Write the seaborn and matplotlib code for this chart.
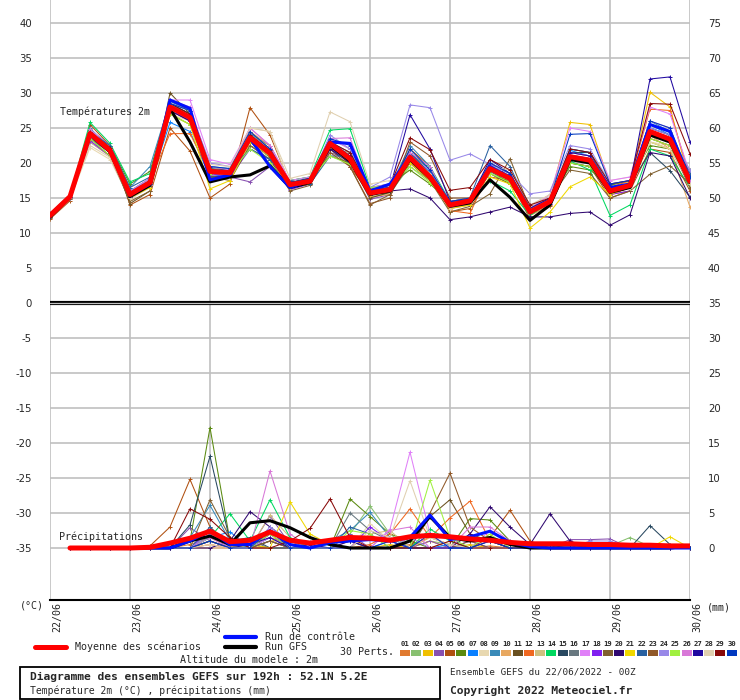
import matplotlib
matplotlib.use("Agg")
import seaborn as sns
import matplotlib.pyplot as plt
import matplotlib.transforms as mtransforms
from matplotlib.lines import Line2D
from matplotlib.patches import Rectangle

# 6-hourly steps from 22/06 00Z to 30/06 00Z (192h)
temp_steps = list(range(33))
rain_steps = list(range(1, 33))
day_labels = ["22/06", "23/06", "24/06", "25/06", "26/06", "27/06", "28/06", "29/06", "30/06"]

member_colors = ["#e07a30", "#88c070", "#f0c000", "#8850b0", "#b05010", "#5a8a10",
                 "#0a80ff", "#e8d8b0", "#3a8ab8", "#e8a860", "#6a5020", "#f06820",
                 "#d0c080", "#00d860", "#284860", "#687880", "#e080f8", "#8020f0",
                 "#806030", "#300870", "#f0d800", "#2860a0", "#905828", "#9888e8",
                 "#a0f040", "#d878d8", "#2008a0", "#e0d0b0", "#880808", "#0038c0"]

# 2m temperature (°C), one list per perturbation
t01 = [12.4, 15.0, 24.0, 22.0, 15.2, 17.0, 27.5, 26.0, 18.5, 18.2, 24.5, 22.0, 16.5, 17.0, 22.0, 21.5, 16.0, 15.5, 21.5, 19.0, 13.5, 14.0, 20.0, 18.5, 12.5, 14.0, 21.5, 21.0, 15.5, 16.0, 24.0, 23.0, 16.5]
t02 = [12.3, 15.3, 23.8, 21.5, 16.0, 17.5, 28.5, 27.0, 19.0, 18.8, 22.5, 20.5, 17.0, 17.8, 23.5, 22.0, 15.0, 15.8, 19.5, 17.5, 14.5, 15.0, 18.5, 17.0, 13.5, 15.5, 20.0, 19.5, 16.5, 17.0, 23.0, 22.0, 17.0]
t03 = [12.5, 15.1, 24.5, 22.3, 15.8, 17.5, 28.2, 27.0, 19.2, 18.5, 24.0, 22.5, 17.2, 17.5, 22.5, 20.0, 16.2, 16.5, 21.0, 18.5, 14.2, 15.0, 19.5, 18.0, 13.2, 15.0, 25.8, 25.5, 17.0, 17.2, 30.1, 28.0, 17.0]
t04 = [12.2, 14.8, 23.0, 21.0, 15.0, 16.8, 27.8, 26.0, 18.2, 18.0, 17.3, 19.5, 16.5, 17.0, 21.5, 20.5, 14.8, 15.5, 20.5, 17.5, 13.8, 14.2, 19.8, 18.5, 12.8, 14.2, 21.0, 20.0, 15.5, 16.5, 25.0, 24.0, 18.0]
t05 = [12.0, 14.6, 25.5, 22.5, 14.0, 15.5, 25.0, 21.7, 15.0, 17.0, 27.9, 24.0, 17.0, 17.5, 23.0, 19.5, 15.5, 16.0, 22.0, 19.5, 13.0, 13.5, 18.0, 17.5, 12.0, 13.8, 20.0, 19.5, 15.0, 16.0, 22.0, 21.5, 16.0]
t06 = [12.6, 15.4, 24.8, 22.5, 17.0, 18.8, 29.0, 27.5, 19.5, 19.0, 23.0, 20.8, 17.5, 18.0, 21.0, 20.0, 16.5, 17.0, 19.0, 17.0, 14.5, 15.0, 18.8, 17.2, 13.5, 14.8, 19.5, 19.0, 16.8, 17.5, 22.5, 22.0, 19.0]
t07 = [12.5, 15.2, 23.5, 21.5, 15.5, 17.0, 25.8, 24.5, 18.0, 18.5, 23.8, 22.0, 16.5, 17.2, 23.2, 21.0, 16.0, 16.5, 21.5, 18.8, 14.0, 14.5, 19.5, 18.0, 13.5, 14.5, 21.8, 21.0, 16.5, 17.0, 25.5, 24.0, 18.5]
t08 = [12.2, 14.8, 22.2, 20.5, 14.8, 16.5, 27.0, 26.0, 18.5, 18.5, 25.0, 24.5, 16.8, 17.0, 22.0, 20.5, 15.5, 16.0, 20.0, 18.0, 13.5, 14.0, 19.0, 18.5, 13.8, 15.5, 22.0, 21.5, 17.5, 18.0, 23.0, 22.5, 16.8]
t09 = [12.8, 15.5, 25.0, 22.0, 16.5, 19.5, 28.8, 27.5, 19.5, 19.2, 24.2, 22.5, 17.2, 17.5, 23.0, 21.5, 16.2, 16.5, 22.5, 19.5, 13.8, 14.8, 20.0, 18.5, 12.8, 14.5, 22.0, 21.5, 16.0, 17.0, 26.0, 24.5, 17.0]
t10 = [12.4, 15.0, 24.2, 22.0, 15.2, 17.0, 28.0, 26.8, 19.0, 18.8, 24.5, 22.5, 17.0, 17.5, 23.5, 20.5, 15.2, 15.5, 21.0, 18.5, 13.5, 14.2, 19.0, 17.5, 12.5, 14.0, 20.5, 20.0, 15.5, 16.5, 24.0, 22.0, 13.7]
t11 = [12.3, 15.0, 24.5, 21.8, 14.2, 16.0, 30.0, 27.0, 18.0, 18.2, 23.5, 21.0, 16.5, 17.0, 22.5, 20.0, 15.0, 15.8, 20.0, 17.5, 14.0, 14.5, 18.5, 17.0, 13.0, 14.5, 20.0, 19.5, 15.5, 16.5, 24.5, 23.5, 17.5]
t12 = [12.5, 15.3, 24.0, 22.0, 15.5, 17.5, 24.2, 24.2, 18.5, 18.2, 24.0, 22.0, 16.8, 17.2, 23.0, 21.0, 15.5, 16.2, 21.5, 18.5, 13.2, 12.8, 19.0, 18.0, 13.0, 14.5, 21.0, 20.5, 16.5, 17.5, 27.7, 27.5, 18.0]
t13 = [12.5, 15.1, 23.0, 21.0, 15.5, 17.2, 27.5, 26.5, 19.0, 18.8, 22.5, 21.0, 16.8, 17.5, 22.0, 20.2, 15.8, 16.5, 20.5, 17.8, 14.2, 15.0, 19.0, 17.8, 13.2, 14.8, 20.5, 20.0, 16.2, 17.0, 23.5, 22.5, 17.2]
t14 = [12.7, 15.4, 25.8, 22.8, 17.3, 18.5, 28.5, 27.0, 19.0, 18.5, 22.0, 20.5, 17.5, 18.0, 24.7, 24.9, 16.5, 16.8, 20.3, 19.5, 14.5, 14.5, 17.5, 16.0, 12.5, 14.4, 20.3, 19.0, 12.5, 14.0, 22.0, 21.0, 16.5]
t15 = [12.4, 15.0, 24.5, 22.5, 16.0, 17.8, 27.8, 26.5, 19.2, 19.0, 24.0, 22.0, 17.2, 17.8, 22.5, 21.0, 16.0, 16.5, 21.0, 18.0, 14.0, 14.8, 20.0, 18.5, 13.5, 15.0, 21.5, 21.5, 16.0, 17.0, 21.5, 18.9, 15.1]
t16 = [12.3, 15.0, 23.5, 21.5, 15.0, 16.8, 28.5, 27.5, 19.0, 18.5, 23.0, 21.5, 16.5, 17.2, 22.0, 20.5, 15.5, 16.0, 21.0, 18.5, 14.0, 14.5, 18.8, 17.5, 13.0, 14.8, 20.5, 20.0, 16.0, 16.5, 24.0, 23.0, 17.5]
t17 = [12.5, 15.3, 24.8, 22.5, 16.0, 17.8, 29.0, 29.0, 20.5, 19.8, 25.0, 22.5, 17.5, 18.0, 23.5, 22.0, 16.5, 17.0, 21.0, 19.0, 14.5, 15.0, 20.0, 18.5, 13.5, 15.5, 25.0, 24.5, 17.5, 18.0, 28.0, 27.0, 18.5]
t18 = [12.4, 15.0, 23.2, 21.0, 15.0, 16.8, 27.5, 26.0, 18.5, 18.0, 22.0, 20.5, 16.2, 17.0, 22.0, 20.5, 15.5, 16.0, 20.0, 17.5, 14.0, 14.5, 19.5, 18.0, 13.0, 14.2, 21.0, 20.5, 15.5, 16.0, 24.0, 23.0, 17.0]
t19 = [12.2, 14.8, 23.5, 21.0, 14.5, 16.0, 27.0, 25.5, 18.0, 17.5, 22.5, 20.5, 16.0, 16.8, 22.0, 19.5, 14.0, 15.5, 20.0, 17.5, 13.0, 13.8, 15.6, 20.6, 13.5, 15.0, 19.0, 18.5, 15.0, 16.0, 18.4, 19.6, 17.0]
t20 = [12.3, 15.0, 24.0, 21.5, 15.2, 17.0, 27.5, 26.0, 18.5, 18.5, 23.0, 21.0, 16.5, 17.0, 22.0, 20.0, 15.5, 16.0, 16.3, 15.0, 11.9, 12.3, 13.0, 13.7, 12.3, 12.3, 12.8, 13.0, 11.1, 12.6, 21.5, 21.0, 15.0]
t21 = [12.5, 15.2, 24.0, 21.5, 15.0, 16.5, 27.0, 25.5, 16.3, 17.5, 23.0, 21.0, 16.5, 17.0, 22.5, 20.5, 15.5, 16.2, 20.0, 17.5, 13.5, 14.0, 18.0, 17.0, 10.7, 13.0, 16.6, 18.0, 15.5, 16.5, 23.0, 22.0, 17.5]
t22 = [12.6, 15.4, 24.5, 22.5, 16.5, 18.0, 28.5, 27.0, 19.0, 19.0, 22.0, 20.5, 17.5, 17.0, 21.0, 21.0, 16.0, 16.5, 21.5, 18.5, 14.0, 15.0, 22.5, 19.5, 13.5, 15.0, 22.0, 21.5, 16.5, 17.0, 25.0, 24.0, 18.5]
t23 = [12.3, 15.0, 24.2, 22.0, 15.5, 17.2, 28.0, 26.5, 19.0, 18.8, 24.0, 22.0, 17.0, 17.5, 21.5, 19.5, 14.2, 15.0, 23.0, 21.0, 15.0, 15.0, 19.0, 18.0, 12.8, 14.5, 20.5, 20.0, 16.0, 16.8, 23.5, 22.5, 16.5]
t24 = [12.5, 15.2, 24.5, 22.0, 16.0, 17.5, 28.5, 27.5, 20.0, 19.5, 24.0, 22.0, 17.0, 17.5, 24.0, 22.0, 16.5, 18.0, 28.3, 27.9, 20.4, 21.3, 19.8, 18.5, 15.6, 16.0, 22.5, 22.0, 17.0, 17.5, 25.0, 24.0, 19.0]
t25 = [12.4, 15.1, 23.5, 21.0, 15.5, 17.0, 27.0, 25.5, 18.5, 18.6, 22.0, 20.0, 16.8, 17.5, 21.0, 19.8, 16.5, 16.8, 19.5, 17.2, 14.2, 15.0, 18.5, 17.2, 13.5, 14.5, 20.0, 19.5, 16.0, 16.5, 23.5, 22.5, 17.0]
t26 = [12.5, 15.2, 24.8, 22.0, 15.5, 17.2, 29.0, 28.0, 19.5, 19.0, 25.0, 22.5, 17.0, 17.5, 23.5, 23.6, 16.0, 16.5, 21.5, 19.5, 14.0, 15.0, 19.5, 18.0, 13.5, 15.0, 21.5, 21.0, 16.5, 17.0, 26.0, 25.0, 17.5]
t27 = [12.4, 15.0, 24.0, 21.5, 15.2, 17.0, 28.0, 26.5, 19.0, 18.5, 23.5, 21.5, 17.0, 17.5, 23.0, 21.0, 16.0, 16.5, 26.9, 22.0, 14.5, 14.8, 20.5, 18.5, 13.5, 15.0, 21.5, 21.0, 16.5, 17.0, 32.0, 32.3, 23.0]
t28 = [12.4, 15.0, 22.5, 20.8, 15.0, 16.8, 27.5, 26.8, 19.8, 19.5, 25.0, 24.5, 17.8, 18.5, 27.3, 25.9, 17.0, 17.5, 21.0, 18.5, 13.5, 14.5, 19.5, 19.0, 14.0, 15.5, 21.0, 20.5, 16.0, 16.5, 23.0, 22.0, 17.0]
t29 = [12.5, 15.2, 24.5, 22.2, 15.8, 17.5, 28.5, 27.0, 19.0, 18.8, 24.0, 21.8, 17.2, 17.8, 23.0, 21.5, 16.2, 16.8, 23.6, 21.9, 16.1, 16.5, 20.5, 19.0, 14.0, 15.0, 22.0, 21.5, 17.0, 17.5, 28.5, 28.4, 21.3]
t30 = [12.5, 15.2, 24.2, 21.8, 15.6, 17.4, 28.5, 27.5, 19.5, 19.2, 24.5, 22.0, 17.2, 17.8, 23.5, 22.5, 16.0, 16.5, 22.0, 19.0, 14.5, 15.0, 20.0, 18.5, 13.0, 14.8, 24.1, 24.2, 17.0, 17.5, 26.0, 25.0, 18.0]
temp_control = [12.5, 15.2, 24.0, 21.8, 15.5, 17.0, 29.0, 27.8, 17.6, 18.3, 23.5, 19.5, 16.5, 17.5, 23.0, 22.8, 16.0, 17.0, 21.0, 18.0, 14.0, 14.5, 19.5, 18.0, 13.0, 14.5, 21.0, 20.5, 16.5, 17.0, 25.5, 24.5, 17.5]
temp_gfs = [12.3, 15.1, 24.0, 21.6, 15.2, 16.8, 27.8, 23.0, 17.3, 18.0, 18.3, 19.6, 16.5, 17.2, 22.5, 20.3, 15.5, 16.0, 20.5, 17.8, 13.8, 14.3, 17.6, 15.1, 11.8, 14.0, 20.5, 20.0, 15.8, 16.5, 24.0, 23.0, 17.2]
temp_mean = [12.5, 15.2, 24.2, 21.8, 15.5, 17.2, 28.0, 26.5, 18.8, 18.6, 23.6, 21.4, 16.9, 17.4, 22.8, 20.6, 15.7, 16.2, 20.8, 18.0, 14.0, 14.6, 19.2, 17.8, 13.0, 14.5, 20.9, 20.4, 16.0, 16.8, 24.5, 23.4, 17.4]

# 6h precipitation (mm), steps 1..32
p01 = [0, 0, 0, 0, 0, 0, 0.5, 1.5, 0.3, 0, 1.5, 0.5, 0, 0, 1.0, 0, 0, 0.5, 1.5, 0.5, 0, 0.3, 0, 0, 0, 0, 0.2, 0, 0, 0, 0, 0]
p02 = [0, 0, 0, 0, 0, 0, 0, 2.0, 0, 0, 1.0, 0, 0, 0, 2.0, 6.0, 2.0, 0, 1.0, 0.5, 0, 0, 0, 0, 0, 0, 0, 0.3, 1.5, 0.2, 0, 0]
p03 = [0, 0, 0, 0, 0, 0, 0, 1.0, 0, 0.5, 2.0, 1.0, 0, 0, 0, 0, 0.5, 0, 1.0, 0, 0.5, 0, 0, 0, 0, 0, 0, 0, 0, 0, 0, 0]
p04 = [0, 0, 0, 0, 0, 0, 2.9, 1.0, 0, 0, 4.6, 0.5, 0, 0, 2.0, 0, 0, 0, 1.0, 0, 0, 0, 0, 0, 0, 1.2, 1.2, 1.3, 0, 0, 0, 0]
p05 = [0, 0, 0, 0, 0.3, 3.0, 9.8, 3.0, 0.5, 0.5, 0, 0, 0, 0, 0, 0, 0, 0, 0, 0, 0, 1.5, 5.4, 1.0, 0, 0, 0, 0, 0, 0, 0, 0]
p06 = [0, 0, 0, 0, 0, 0, 1.0, 17.2, 1.0, 0, 2.5, 1.0, 0, 0, 7.0, 4.5, 2.0, 1.0, 0, 0, 4.2, 4.0, 1.0, 0, 0, 0.5, 0, 0, 0, 0, 0, 0]
p07 = [0, 0, 0, 0, 0, 0, 0, 1.5, 2.3, 0, 1.5, 0, 0, 0.5, 0, 0, 1.0, 0, 0, 0.5, 0, 0, 0, 0, 0, 0, 0, 0, 0, 0, 0, 0]
p08 = [0, 0, 0, 0, 0, 0, 0, 1.0, 0, 0, 1.0, 0, 0, 0, 0, 3.5, 1.0, 0, 0, 0, 0, 0, 0, 0, 0, 0, 0, 0, 0, 0, 0, 0]
p09 = [0, 0, 0, 0, 0, 0, 1.5, 6.1, 1.0, 0, 0, 0, 0.8, 1.0, 2.5, 5.1, 1.5, 0, 0, 0, 0, 0, 0, 0, 0, 0, 0, 0, 0, 0, 0, 0]
p10 = [0, 0, 0, 0, 0, 0, 0, 0, 0, 0, 1.0, 1.0, 0, 0, 0, 0, 0, 0, 1.5, 0.5, 0, 0, 0, 0, 0, 0, 0, 0, 0, 0, 0, 0]
p11 = [0, 0, 0, 0, 0, 0, 0, 1.0, 0, 0, 2.0, 0, 0, 0, 0, 0, 0, 0, 4.5, 6.9, 2.0, 1.0, 0, 0, 0, 0, 0, 0, 0, 0, 0, 0]
p12 = [0, 0, 0, 0, 0, 0, 0, 0.5, 0, 0, 0, 0, 0, 0, 0, 0.5, 2.0, 5.6, 1.5, 4.3, 6.7, 1.0, 0, 0, 0, 0, 0, 0, 0, 0, 0, 0]
p13 = [0, 0, 0, 0, 0, 0, 0, 1.5, 0, 0, 4.7, 1.5, 0, 0, 0, 2.0, 2.5, 0, 0, 1.0, 0, 0, 0, 0, 0, 0, 0, 0, 0, 0, 0, 0]
p14 = [0, 0, 0, 0, 0, 0, 0, 1.5, 4.9, 1.0, 6.9, 1.5, 0, 0, 0, 0, 0, 0, 2.7, 1.0, 0, 0, 0, 0, 0, 0, 0, 0, 0, 0, 0, 0]
p15 = [0, 0, 0, 0, 0, 0, 3.3, 13.1, 1.0, 1.5, 0, 0, 0, 1.0, 1.0, 0, 0, 0, 0, 0, 0, 0, 0, 0, 0, 0, 0, 0, 0, 3.2, 0.5, 0]
p16 = [0, 0, 0, 0, 0, 0, 0, 2.0, 0, 1.0, 0, 0, 0, 0, 5.0, 2.5, 1.0, 0, 0, 0, 0, 0, 0, 0, 0, 0, 0, 0, 0, 0, 0, 0]
p17 = [0, 0, 0, 0, 0, 0, 0, 1.0, 0, 0, 1.5, 0, 0, 0, 0, 0, 2.7, 13.7, 2.0, 0, 0, 2.5, 1.0, 0, 0, 0, 0, 0, 0, 0, 0, 0]
p18 = [0, 0, 0, 0, 0, 0, 0, 2.5, 0, 0, 2.0, 0, 0, 0, 0, 3.0, 1.0, 0, 0, 0, 1.0, 0, 0, 0, 0, 0, 0, 0, 0, 0, 0, 0]
p19 = [0, 0, 0, 0, 0, 0, 0, 6.9, 1.5, 0, 1.0, 0, 0, 0, 0, 0, 0, 0, 0, 0, 1.0, 0, 0, 0, 0, 0, 0, 0, 0, 0, 0, 0]
p20 = [0, 0, 0, 0, 0, 0, 0, 0, 1.0, 5.2, 3.0, 1.0, 0, 0, 0, 0, 0, 0, 0, 0, 2.0, 5.9, 3.0, 0.5, 4.9, 1.0, 0, 0, 0, 0, 0, 0]
p21 = [0, 0, 0, 0, 0, 0, 0, 1.0, 0, 0.5, 0, 6.6, 2.0, 0.5, 0, 0, 0, 0, 0, 0, 0, 0, 0, 0, 0, 0, 0, 0, 0, 0, 1.6, 0]
p22 = [0, 0, 0, 0, 0, 0, 0, 3.0, 0, 0, 1.0, 0, 0, 0, 3.0, 2.0, 0, 0, 0, 0, 0, 0, 0, 0, 0, 0, 0, 0, 0, 0, 0, 0]
p23 = [0, 0, 0, 0, 0, 0, 0, 1.0, 0, 0, 1.0, 0, 0, 0, 0, 0, 0, 0, 5.0, 10.7, 3.0, 1.0, 0, 0, 0, 0, 0, 0, 0, 0.5, 0.3, 0]
p24 = [0, 0, 0, 0, 0, 0, 0, 2.0, 0, 0, 3.0, 1.0, 0, 0, 0, 0, 0, 1.5, 0, 0, 0, 0, 0, 0, 0, 0, 1.0, 1.0, 0, 0, 0, 0]
p25 = [0, 0, 0, 0, 0, 0, 0, 1.0, 0, 0, 2.0, 0, 0, 0, 2.5, 2.0, 0, 0, 9.7, 1.5, 0, 2.0, 0, 0, 0, 0, 0, 0, 0, 0, 0, 0]
p26 = [0, 0, 0, 0, 0, 0, 0, 1.5, 0, 0, 11.0, 2.0, 0, 0, 0, 0, 2.5, 3.0, 0, 0, 3.0, 3.0, 1.0, 0, 0, 0, 0, 0, 0, 0, 0, 0]
p27 = [0, 0, 0, 0, 0, 0, 0, 1.0, 0, 0.5, 1.5, 0, 0.5, 0, 1.0, 0, 0, 0, 0, 0, 0, 1.0, 0, 0, 0, 0, 0, 0.3, 0, 0, 0, 0]
p28 = [0, 0, 0, 0, 0, 0, 0, 0.5, 0, 0, 2.5, 0, 0, 0, 0, 2.5, 1.5, 9.6, 1.5, 0.5, 0, 0, 0, 0, 0, 0, 0, 0, 0, 0, 0, 0]
p29 = [0, 0, 0, 0, 0, 0, 5.6, 4.1, 1.5, 0, 0, 1.0, 2.8, 7.0, 1.5, 0, 0, 0, 0, 1.0, 0, 0, 0, 0, 0, 0, 0, 0, 0, 0, 0, 0]
p30 = [0, 0, 0, 0, 0, 0, 0, 1.0, 0, 0, 2.5, 0, 0, 0, 0, 0, 1.0, 0, 2.0, 0, 0, 1.0, 0, 0, 0, 0, 0, 0, 0, 0, 0, 0]
rain_control = [0, 0, 0, 0, 0, 0, 1.0, 2.5, 0.5, 0.5, 2.5, 0.5, 0, 0.8, 1.0, 1.2, 1.0, 1.5, 4.7, 1.2, 1.6, 2.4, 0.8, 0.2, 0, 0, 0, 0, 0, 0, 0, 0]
rain_gfs = [0, 0, 0, 0, 0, 0, 1.0, 1.7, 0.5, 3.6, 3.9, 2.9, 1.5, 0.5, 0, 0, 0, 1.0, 4.5, 1.5, 1.0, 1.5, 0.5, 0, 0, 0, 0, 0, 0, 0, 0, 0.3]
rain_mean = [0, 0, 0, 0, 0.1, 0.7, 1.4, 2.4, 0.9, 1.1, 2.3, 1.1, 0.7, 1.1, 1.5, 1.4, 1.1, 1.6, 1.8, 1.6, 1.3, 1.1, 0.8, 0.6, 0.6, 0.6, 0.5, 0.5, 0.4, 0.4, 0.3, 0.3]

temp_members = [t01, t02, t03, t04, t05, t06, t07, t08, t09, t10, t11, t12, t13, t14, t15,
                t16, t17, t18, t19, t20, t21, t22, t23, t24, t25, t26, t27, t28, t29, t30]
rain_members = [p01, p02, p03, p04, p05, p06, p07, p08, p09, p10, p11, p12, p13, p14, p15,
                p16, p17, p18, p19, p20, p21, p22, p23, p24, p25, p26, p27, p28, p29, p30]

sns.set_style("white")
plt.rcParams["font.family"] = ["DejaVu Sans Mono", "DejaVu Sans"]
plt.rcParams["axes.unicode_minus"] = False

W, H = 740, 700
fig = plt.figure(figsize=(W / 100, H / 100), dpi=100)
ax = fig.add_axes([50 / W, 100 / H, 640 / W, 600 / H])

# 7 px per degree, 40°C at y=23 px from the top
y_top = 40 + 23 / 7
y_bot = 40 - 577 / 7
ax.set_xlim(0, 32)
ax.set_ylim(y_bot, y_top)

grid_c = "#c0c0c0"
ax.set_yticks(range(-35, 41, 5))
ax.set_xticks(range(0, 33, 4))
ax.grid(True, color=grid_c, lw=1.2)
ax.set_axisbelow(True)
for s in ["top", "left", "right"]:
    ax.spines[s].set_visible(False)
ax.spines["bottom"].set_color("black")
ax.spines["bottom"].set_linewidth(1.5)

# double zero line
ax.axhline(0, color="black", lw=3.0, zorder=1.5)
ax.axhline(0, color=grid_c, lw=0.9, zorder=1.6)

# temperature ensemble
for vals, col in zip(temp_members, member_colors):
    sns.lineplot(x=temp_steps, y=vals, color=col, lw=0.75, marker="+", markersize=3.5,
                 markeredgecolor=col, markeredgewidth=0.7, ax=ax, legend=False)
sns.lineplot(x=temp_steps, y=temp_gfs, color="black", lw=2.2, ax=ax, legend=False)
sns.lineplot(x=temp_steps, y=temp_control, color="#0010ff", lw=2.2, ax=ax, legend=False)
sns.lineplot(x=temp_steps, y=temp_mean, color="#ff0000", lw=3.6, ax=ax, legend=False)

# precipitation on the right scale (0 mm at -35°C)
ax2 = ax.twinx()
ax2.set_ylim(y_bot + 35, y_top + 35)
ax2.set_yticks(range(0, 76, 5))
for s in ax2.spines.values():
    s.set_visible(False)
for vals, col in zip(rain_members, member_colors):
    sns.lineplot(x=rain_steps, y=vals, color=col, lw=0.75, marker="+", markersize=3.5,
                 markeredgecolor=col, markeredgewidth=0.7, ax=ax2, legend=False)
sns.lineplot(x=rain_steps, y=rain_gfs, color="black", lw=2.2, ax=ax2, legend=False)
sns.lineplot(x=rain_steps, y=rain_control, color="#0010ff", lw=2.2, ax=ax2, legend=False)
sns.lineplot(x=rain_steps, y=rain_mean, color="#ff0000", lw=3.6, ax=ax2, legend=False)
ax2.set_xlim(0, 32)

# tick labels
ax.set_xlabel("")
ax.set_ylabel("")
ax2.set_ylabel("")
ax.tick_params(axis="y", length=0, pad=13, labelsize=7.3, labelfontfamily="DejaVu Sans")
ax2.tick_params(axis="y", length=0, pad=13, labelsize=7.3, labelfontfamily="DejaVu Sans")
ax.tick_params(axis="x", length=0, pad=1.5, labelsize=7.2)
ax.set_xticklabels(day_labels, rotation=90, ha="center", va="top")
shift = mtransforms.ScaledTranslation(7 / 100, 0, fig.dpi_scale_trans)
for lab in ax.get_xticklabels():
    lab.set_transform(lab.get_transform() + shift)

def ftext(x, y, s, **kw):
    fig.text(x / W, 1 - y / H, s, va="center", **kw)

ax.text(10 / 640, 1 - 112 / 600, "Températures 2m", fontsize=7.2, va="center", transform=ax.transAxes)
ax.text(9 / 640, 1 - 537 / 600, "Précipitations", fontsize=7.2, va="center", transform=ax.transAxes)
ftext(20, 606, "(°C)", fontsize=7.2)
ftext(707, 607, "(mm)", fontsize=7.2)

# legend
def fline(x0, x1, y, color, lw):
    fig.add_artist(Line2D([x0 / W, x1 / W], [1 - y / H, 1 - y / H], color=color, lw=lw))

fline(35, 66, 647, "#ff0000", 3.6)
ftext(75, 647, "Moyenne des scénarios", fontsize=7.2)
fline(225, 256, 637, "#0010ff", 3.0)
ftext(265, 637, "Run de contrôle", fontsize=7.2)
fline(225, 256, 647, "black", 3.0)
ftext(265, 647, "Run GFS", fontsize=7.2)
ftext(180, 660, "Altitude du modele : 2m", fontsize=7.2)
ftext(340, 652, "30 Perts.", fontsize=7.2)

pitch = 338 / 30
for i, col in enumerate(member_colors):
    x0 = 400 + i * pitch
    fig.add_artist(Rectangle((x0 / W, 1 - 656 / H), 10 / W, 6.5 / H, color=col, lw=0))
    fig.text((x0 + 5) / W, 1 - 644 / H, f"{i + 1:02d}", ha="center", va="center",
             fontsize=5.2, fontweight="bold")

fig.add_artist(Rectangle((20 / W, 1 - 699 / H), 420 / W, 32 / H, fill=False,
                         edgecolor="black", lw=1.3))
ftext(30, 677, "Diagramme des ensembles GEFS sur 192h : 52.1N 5.2E", fontsize=8.1, fontweight="bold")
ftext(30, 691, "Température 2m (°C) , précipitations (mm)", fontsize=7.0)
ftext(450, 672, "Ensemble GEFS du 22/06/2022 - 00Z", fontsize=6.7)
ftext(450, 691, "Copyright 2022 Meteociel.fr", fontsize=8.1, fontweight="bold")

fig.savefig("out.png", dpi=100, facecolor="white")
